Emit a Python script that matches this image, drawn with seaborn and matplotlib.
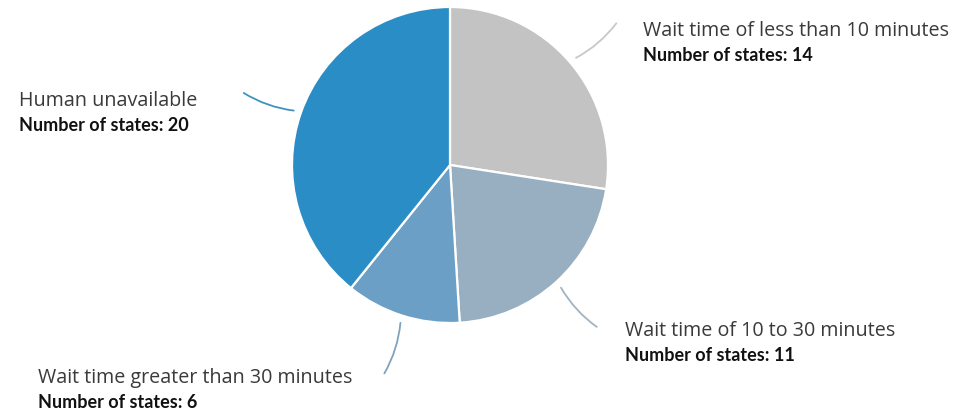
import numpy as np
import matplotlib
matplotlib.use("Agg")
import matplotlib.pyplot as plt
import seaborn as sns

categories = ["Wait time of less than 10 minutes", "Wait time of 10 to 30 minutes",
              "Wait time greater than 30 minutes", "Human unavailable"]
values = [14, 11, 6, 20]
colors = ["#c3c3c3", "#97afc1", "#6c9fc6", "#2b8dc5"]
line_colors = ["#c8c8c8", "#a3b3c0", "#7ea3bf", "#3f93bd"]

# label anchor (text left edge, first-line y) in data units (radius = 1)
label_pos = [(1.22, 0.845), (1.108, -1.05), (-2.61, -1.35), (-2.73, 0.405)]
line_gap = 0.155

sns.set_theme(style="white")
plt.rcParams["font.family"] = ["Lato", "DejaVu Sans"]

W, H = 962, 412
fig = plt.figure(figsize=(W / 100, H / 100), dpi=100)
ax = fig.add_axes([0, 0, 1, 1])
R = 158.0
cx, cy = 450.0, 165.0

wedges, _ = ax.pie(values, colors=colors, startangle=90, counterclock=False,
                   radius=1.0, center=(0, 0), frame=True,
                   wedgeprops=dict(edgecolor="white", linewidth=1.6))
ax.set_aspect("auto")
ax.set_xlim(-cx / R, (W - cx) / R)
ax.set_ylim((cy - H) / R, cy / R)
ax.axis("off")

for w, cat, v, lc, (tx, ty) in zip(wedges, categories, values, line_colors, label_pos):
    ang = np.deg2rad((w.theta1 + w.theta2) / 2)
    x0, y0 = 1.03 * np.cos(ang), 1.03 * np.sin(ang)
    x1, y1 = 1.40 * np.cos(ang), 1.40 * np.sin(ang)
    rad = 0.12 if np.cos(ang) > 0 else -0.12
    ax.annotate("", xy=(x1, y1), xytext=(x0, y0),
                arrowprops=dict(arrowstyle="-", color=lc, lw=1.3,
                                connectionstyle=f"arc3,rad={rad}"))
    ax.text(tx, ty, cat, fontsize=14.2, color="#3a3a3a", va="center", ha="left",
            family=["Open Sans", "DejaVu Sans"])
    ax.text(tx, ty - line_gap, f"Number of states: {v}", fontsize=13,
            fontweight="bold", color="#111111", va="center", ha="left")

fig.savefig("out.png", dpi=100, facecolor="white")
